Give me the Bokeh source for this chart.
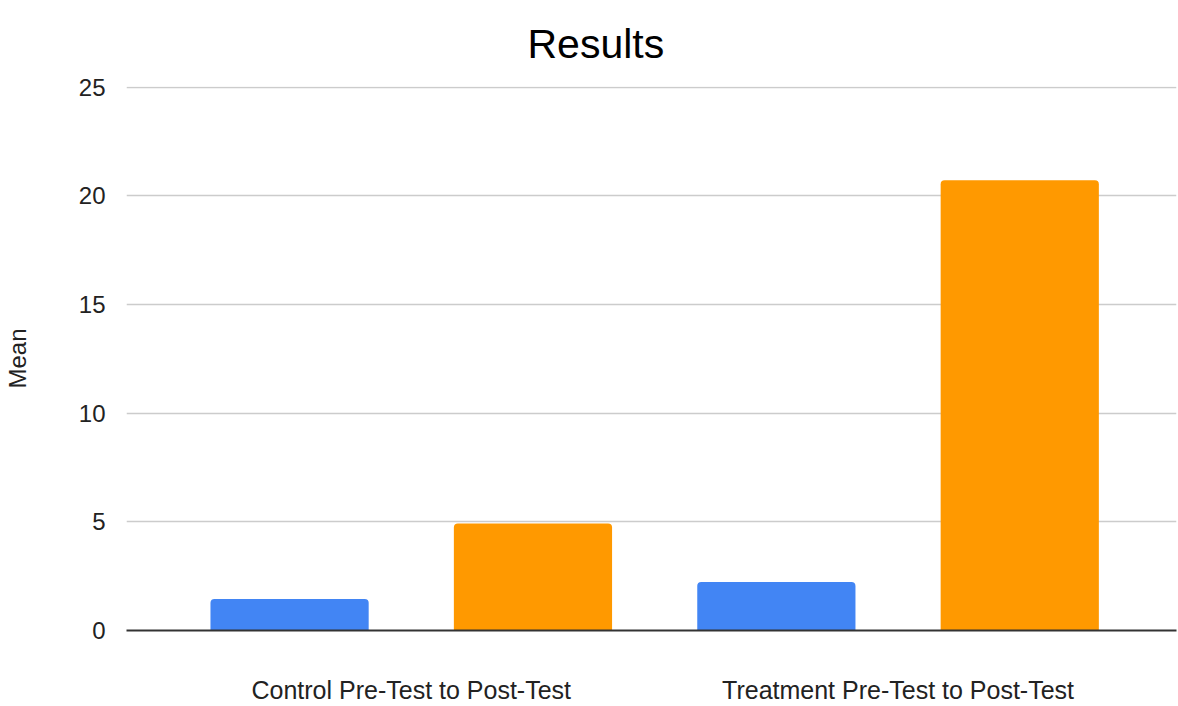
from bokeh.plotting import figure
from bokeh.models import ColumnDataSource, Range1d, FixedTicker
from bokeh.transform import dodge
from bokeh.embed import file_html
from bokeh.resources import INLINE

title_text = "Results"
categories = ["Control Pre-Test to Post-Test", "Treatment Pre-Test to Post-Test"]
series_names = ["Pre-Test", "Post-Test"]
pre_values = [1.45, 2.23]
post_values = [4.93, 20.72]
y_ticks = [0, 5, 10, 15, 20, 25]
colors = ["#4285F4", "#FF9900"]

xs = list(range(len(categories)))
source = ColumnDataSource(dict(x=xs, pre=pre_values, post=post_values))

FONT = "Liberation Sans"

p = figure(width=1178, height=706, output_backend="svg", toolbar_location=None,
           x_range=Range1d(-0.585, 1.572), y_range=Range1d(0, 25.04),
           min_border_left=126, min_border_right=2, min_border_top=86, min_border_bottom=76,
           title=title_text)

p.vbar(x=dodge("x", -0.25), top="pre", width=0.325, bottom=0, source=source,
       fill_color=colors[0], line_color=None, border_radius=(4, 4, 0, 0))
p.vbar(x=dodge("x", 0.25), top="post", width=0.325, bottom=0, source=source,
       fill_color=colors[1], line_color=None, border_radius=(4, 4, 0, 0))

p.title.text_font = FONT
p.title.text_font_size = "41px"
p.title.text_font_style = "normal"
p.title.text_color = "#000000"
p.title.align = "left"
p.title.offset = 401
p.title.standoff = 36
p.title.vertical_align = "top"

p.outline_line_color = None
p.background_fill_color = "white"
p.border_fill_color = "white"

p.xgrid.grid_line_color = None
p.ygrid.grid_line_color = "#cccccc"
p.ygrid.grid_line_width = 1.5

p.yaxis.ticker = FixedTicker(ticks=y_ticks)
p.yaxis.axis_line_color = None
p.yaxis.major_tick_line_color = None
p.yaxis.minor_tick_line_color = None
p.yaxis.major_label_text_font = FONT
p.yaxis.major_label_text_font_size = "24px"
p.yaxis.major_label_text_color = "#222222"
p.yaxis.major_label_standoff = 15
p.yaxis.axis_label = "Mean"
p.yaxis.axis_label_text_font = FONT
p.yaxis.axis_label_text_font_size = "24px"
p.yaxis.axis_label_text_font_style = "normal"
p.yaxis.axis_label_text_color = "#222222"
p.yaxis.axis_label_standoff = 45

p.xaxis.ticker = FixedTicker(ticks=xs)
p.xaxis.major_label_overrides = {i: c for i, c in zip(xs, categories)}
p.xaxis.axis_line_color = "#333333"
p.xaxis.axis_line_width = 2
p.xaxis.major_tick_line_color = None
p.xaxis.minor_tick_line_color = None
p.xaxis.major_label_text_font = FONT
p.xaxis.major_label_text_font_size = "25px"
p.xaxis.major_label_text_color = "#222222"
p.xaxis.major_label_standoff = 39

open("out.html", "w").write(file_html(p, INLINE))
